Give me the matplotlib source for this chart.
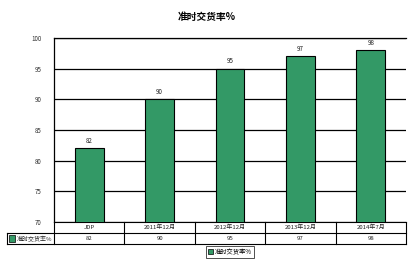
import numpy as np
import matplotlib.pyplot as plt
from matplotlib.patches import Rectangle
import matplotlib.transforms as mtransforms

plt.rcParams['font.family'] = ['Noto Sans CJK SC', 'DejaVu Sans']

# data
categories = ['JDP', '2011年12月', '2012年12月', '2013年12月', '2014年7月']
values = [82, 90, 95, 97, 98]
series_name = '准时交货率%'
bar_color = '#339966'

fig = plt.figure(figsize=(4.13, 2.62), dpi=100)
ax = fig.add_axes([54/413, 1 - 222/262, 352/413, 184/262])

x = np.arange(len(categories))
ax.bar(x, values, width=0.41, color=bar_color, edgecolor='black', linewidth=0.8, zorder=3)
for xi, v in zip(x, values):
    ax.text(xi, v + 0.6, str(v), ha='center', va='bottom', fontsize=4.5, color='#222222')

ax.set_xlim(-0.5, len(categories) - 0.5)
ax.set_ylim(70, 100)
ax.set_yticks(np.arange(70, 101, 5))
ax.yaxis.grid(True, color='black', linewidth=0.9, zorder=0)
ax.tick_params(axis='y', length=0, labelsize=4.5, labelcolor='#333333', pad=9)
ax.set_xticks([])
for s in ['right', 'bottom']:
    ax.spines[s].set_visible(False)
ax.spines['left'].set_linewidth(0.9)
ax.spines['top'].set_linewidth(0.9)

fig.text(207/413, 1 - 17/262, series_name, ha='center', va='center', fontsize=7, fontweight='bold')

# data table below axes
tr = mtransforms.blended_transform_factory(ax.transData, ax.transAxes)
rh = 11 / 184
left_lbl = -0.5 - 47 * (5 / 352)
right = len(categories) - 0.5
kw = dict(transform=tr, clip_on=False, color='black', linewidth=0.8)
ax.plot([-0.5, right], [0, 0], **kw)
ax.plot([left_lbl, right], [-rh, -rh], **kw)
ax.plot([left_lbl, right], [-2 * rh, -2 * rh], **kw)
ax.plot([left_lbl, left_lbl], [-rh, -2 * rh], **kw)
for b in np.arange(-0.5, right + 0.01, 1.0):
    ax.plot([b, b], [0, -2 * rh], **kw)
for xi, c, v in zip(x, categories, values):
    ax.text(xi, -rh / 2, c, transform=tr, ha='center', va='center', fontsize=4.3, color='#222222')
    ax.text(xi, -1.5 * rh, str(v), transform=tr, ha='center', va='center', fontsize=4.3, color='#222222')
ax.add_patch(Rectangle((left_lbl + 0.03, -1.5 * rh - 0.017), 0.09, 0.034, transform=tr,
                       clip_on=False, facecolor=bar_color, edgecolor='black', linewidth=0.5))
ax.text(left_lbl + 0.14, -1.5 * rh, series_name, transform=tr, ha='left', va='center',
        fontsize=4.3, color='#222222')

# legend
leg = fig.legend([Rectangle((0, 0), 1, 1, facecolor=bar_color, edgecolor='black', linewidth=0.5)],
                 [series_name], loc='center', bbox_to_anchor=(230/413, 1 - 252/262),
                 fontsize=4.5, frameon=True, fancybox=False, handlelength=0.8, handleheight=0.8,
                 handletextpad=0.3, borderpad=0.3, borderaxespad=0)
leg.get_frame().set_edgecolor('black')
leg.get_frame().set_linewidth(0.6)

fig.savefig('out.png', dpi=100)
